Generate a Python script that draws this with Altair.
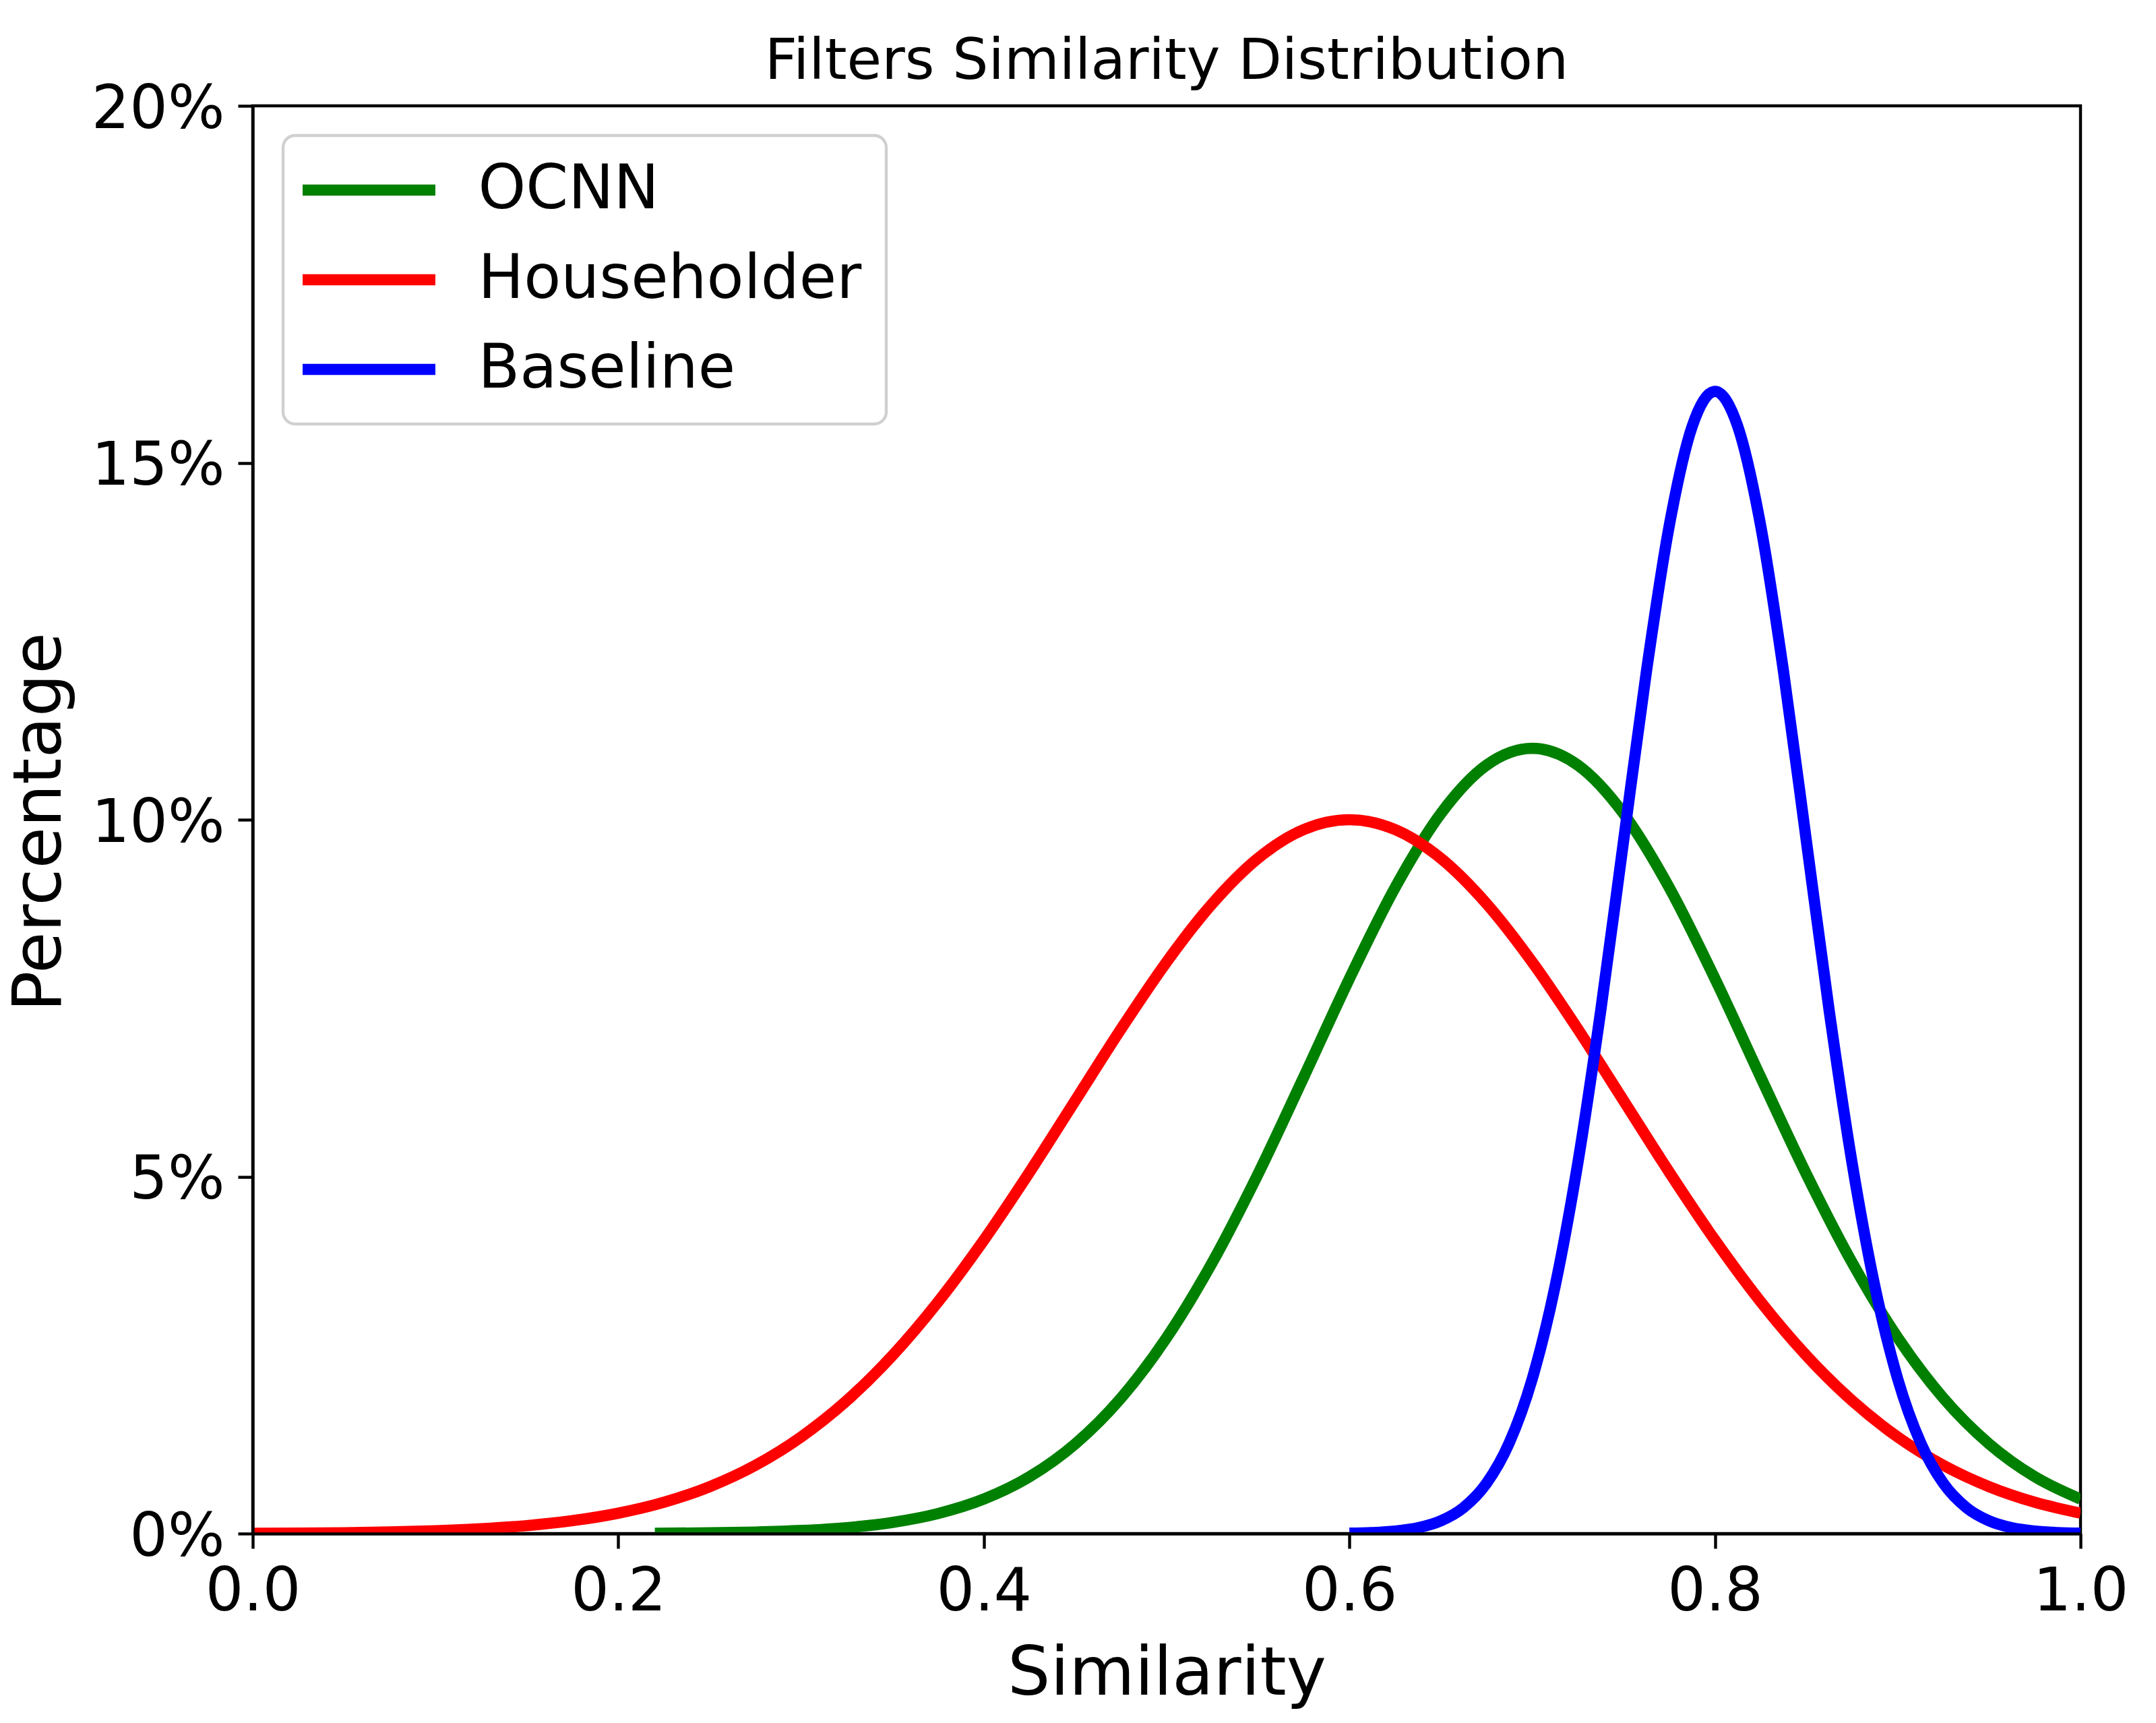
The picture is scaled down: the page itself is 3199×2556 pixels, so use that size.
import altair as alt
import pandas as pd

# ---- data ----
series_names = ["OCNN", "Householder", "Baseline"]
series_colors = ["#008000", "#ff0000", "#0000ff"]

ocnn_x = [0.22, 0.25, 0.275, 0.3, 0.325, 0.35, 0.375, 0.4, 0.425, 0.45, 0.475, 0.5,
          0.525, 0.55, 0.575, 0.6, 0.625, 0.65, 0.675, 0.7, 0.725, 0.75, 0.775, 0.8,
          0.825, 0.85, 0.875, 0.9, 0.925, 0.95, 0.975, 1.0]
ocnn_y = [0.004, 0.010, 0.021, 0.043, 0.083, 0.156, 0.281, 0.483, 0.796, 1.256, 1.897, 2.744,
          3.798, 5.036, 6.394, 7.773, 9.049, 10.086, 10.764, 11.0, 10.764, 10.086, 9.049, 7.773,
          6.394, 5.036, 3.798, 2.744, 1.897, 1.256, 0.796, 0.483]

house_x = [0.0, 0.025, 0.05, 0.075, 0.1, 0.125, 0.15, 0.175, 0.2, 0.225, 0.25, 0.275, 0.3,
           0.325, 0.35, 0.375, 0.4, 0.425, 0.45, 0.475, 0.5, 0.525, 0.55, 0.575, 0.6,
           0.625, 0.65, 0.675, 0.7, 0.725, 0.75, 0.775, 0.8, 0.825, 0.85, 0.875, 0.9,
           0.925, 0.95, 0.975, 1.0]
house_y = [0.003, 0.006, 0.012, 0.022, 0.039, 0.067, 0.111, 0.181, 0.286, 0.439, 0.657, 0.956, 1.353,
           1.862, 2.494, 3.247, 4.111, 5.063, 6.065, 7.066, 8.007, 8.825, 9.460, 9.862, 10.0,
           9.862, 9.460, 8.825, 8.007, 7.066, 6.065, 5.063, 4.111, 3.247, 2.494, 1.862, 1.353,
           0.956, 0.657, 0.439, 0.286]

base_x = [0.6, 0.6125, 0.625, 0.6375, 0.65, 0.6625, 0.675, 0.6875, 0.7, 0.7125, 0.725, 0.7375,
          0.75, 0.7625, 0.775, 0.7875, 0.8, 0.8125, 0.825, 0.8375, 0.85, 0.8625, 0.875, 0.8875,
          0.9, 0.9125, 0.925, 0.9375, 0.95, 0.9625, 0.975, 0.9875, 1.0]
base_y = [0.005, 0.014, 0.035, 0.081, 0.178, 0.365, 0.703, 1.273, 2.165, 3.461, 5.195, 7.325,
          9.704, 12.077, 14.120, 15.507, 16.0, 15.507, 14.120, 12.077, 9.704, 7.325, 5.195, 3.461,
          2.165, 1.273, 0.703, 0.365, 0.178, 0.081, 0.035, 0.014, 0.005]

x_ticks = [0.0, 0.2, 0.4, 0.6, 0.8, 1.0]
y_ticks = [0, 5, 10, 15, 20]

rows = []
for name, xs, ys in [("OCNN", ocnn_x, ocnn_y), ("Householder", house_x, house_y), ("Baseline", base_x, base_y)]:
    for a, b in zip(xs, ys):
        rows.append({"series": name, "x": a, "y": b})
df = pd.DataFrame(rows)

FONT = "DejaVu Sans"

chart = alt.Chart(df).mark_line(strokeWidth=16.7, interpolate="monotone", clip=True).encode(
    x=alt.X("x:Q",
            scale=alt.Scale(domain=[0, 1], nice=False, zero=False),
            axis=alt.Axis(values=x_ticks, format=".1f", title="Similarity",
                          titleX=1356, titleY=238, titleBaseline="alphabetic", titleAlign="center",
                          labelFlush=False, labelPadding=21, zindex=1)),
    y=alt.Y("y:Q",
            scale=alt.Scale(domain=[0, 20], nice=False),
            axis=alt.Axis(values=y_ticks, labelExpr="datum.value + '%'", title="Percentage",
                          titleX=-286, titleY=1062, titleAngle=270, titleBaseline="alphabetic",
                          titleAlign="center", labelFlush=False, labelPadding=20, labelOffset=5,
                          zindex=1)),
    color=alt.Color("series:N",
                    scale=alt.Scale(domain=series_names, range=series_colors),
                    sort=series_names,
                    legend=alt.Legend(
                        title=None, orient="none", legendX=45, legendY=44,
                        symbolType="M-5,0H5", symbolSize=1552, symbolStrokeWidth=16.7,
                        symbolOffset=46.5, labelOffset=117, rowPadding=43,
                        labelFont=FONT, labelFontSize=90, labelColor="black", labelLimit=3000,
                        padding=36, strokeColor="#d0d0d0", fillColor="rgba(255,255,255,0.8)",
                        cornerRadius=18,
                    )),
).properties(
    width=2712,
    height=2118,
    autosize=alt.AutoSizeParams(type="none"),
    padding={"left": 367, "top": 149, "right": 104, "bottom": 273},
    title=alt.TitleParams("Filters Similarity Distribution", fontSize=84, font=FONT,
                          fontWeight="normal", anchor="middle", frame="group", offset=39,
                          dy=122, baseline="alphabetic", color="black"),
).configure_view(
    stroke="black", strokeWidth=4.4
).configure_legend(
    strokeWidth=4.4
).configure_axis(
    labelFont=FONT, labelFontSize=89, labelColor="black", labelLimit=1000,
    titleFont=FONT, titleFontSize=100, titleFontWeight="normal", titleColor="black",
    tickColor="black", tickWidth=4.4, tickSize=22,
    domain=True, domainColor="black", domainWidth=4.4, grid=False,
)

chart.save("out.html", embed_options={"renderer": "svg", "actions": False})
